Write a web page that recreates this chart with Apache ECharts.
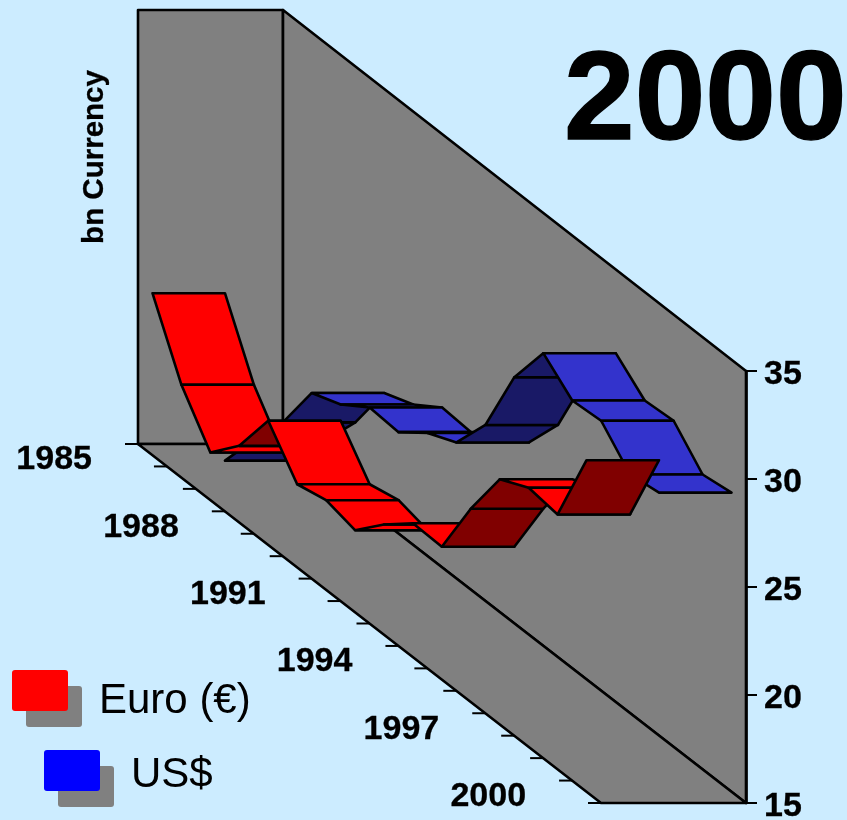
<!DOCTYPE html>
<html>
<head>
<meta charset="utf-8">
<style>html,body{margin:0;padding:0;background:#CCECFF}#chart{width:847px;height:820px}</style>
<script src="https://cdn.jsdelivr.net/npm/echarts@6/dist/echarts.min.js"></script>
</head>
<body>
<div id="chart"></div>
<script>
// Currency stocks 1985-2000, bn, shown as two 3D ribbons in a sheared box.
const years = ['1985','1986','1987','1988','1989','1990','1991','1992','1993','1994','1995','1996','1997','1998','1999','2000'];
const euroValues = [22.5,19.3,17.2,18.55,20.75,18.85,19.15,18.8,20.1,21.2,21.15,23.95,26.35,27.0,26.8,30.35];
const usdValues = [14.75,16.75,18.6,21.0,21.5,22.4,22.3,23.3,23.9,25.75,29.0,31.15,30.0,30.1,28.65,28.85];
const yTicks = {min: 15, max: 35, interval: 5};
const labelledYears = ['1985','1988','1991','1994','1997','2000'];

// Box projection: depth runs sideways, each year steps down the floor.
const DEPTH_PX = 145;
const BOX_DROP = 359;
const YEAR_DROP = BOX_DROP / years.length;
const WALL_TOP_EXTRA = 0.09;  // back corner of the walls stands a touch above the axis top
const STEEP_RISE = 1.6;       // rises steeper than this show the ribbon's underside
const LINE_WIDTH = 2.6;
const FONT = '"Liberation Sans", Arial, sans-serif';
const BOLD_EDGE = 0.3;        // thin outline that thickens the bold labels

function projector(api) {
  const last = years.length - 1;
  const band = api.size([1, 0])[0];
  // year may be a band centre (integer) or a band edge (integer +/- 0.5)
  return function (year, depth, value) {
    const idx = Math.min(Math.max(Math.round(year), 0), last);
    const p = api.coord([idx, value]);
    return [p[0] + (year - idx) * band + depth * DEPTH_PX,
            p[1] - (last + 0.5 - year) * YEAR_DROP];
  };
}

function renderBox(params, api) {
  const P = projector(api);
  const n = years.length;
  const lo = yTicks.min, hi = yTicks.max, top = hi + WALL_TOP_EXTRA;
  const a = -0.5, b = n - 0.5;
  const poly = pts => ({type: 'polygon', shape: {points: pts},
    style: {fill: '#808080', stroke: '#000', lineWidth: LINE_WIDTH, lineJoin: 'round'}});
  const children = [
    poly([P(a,0,lo), P(a,0,top), P(a,1,top), P(a,1,lo)]),
    poly([P(a,1,lo), P(a,1,top), P(b,1,hi), P(b,1,lo)]),
    poly([P(a,0,lo), P(a,1,lo), P(b,1,lo), P(b,0,lo)])
  ];
  for (let i = 0; i <= n; i++) {
    const t = P(i - 0.5, 0, lo);
    children.push({type: 'line', shape: {x1: t[0] - 13, y1: t[1], x2: t[0], y2: t[1]},
      style: {stroke: '#000', lineWidth: 2}});
    if (i < n && labelledYears.indexOf(years[i]) >= 0) {
      children.push({type: 'text', style: {text: years[i], x: t[0] - 46, y: t[1] + 16,
        align: 'right', verticalAlign: 'middle', fill: '#000',
        stroke: '#000', lineWidth: BOLD_EDGE, font: 'bold 34px ' + FONT}});
    }
  }
  return {type: 'group', children: children};
}

function ribbonRenderer(depthFrom, depthTo, light, dark) {
  return function (params, api) {
    const P = projector(api);
    const i = api.value(0), v0 = api.value(1), v1 = api.value(2);
    return {
      type: 'polygon',
      shape: {points: [P(i, depthFrom, v0), P(i, depthTo, v0), P(i + 1, depthTo, v1), P(i + 1, depthFrom, v1)]},
      style: {fill: v1 - v0 > STEEP_RISE ? dark : light, stroke: '#000', lineWidth: LINE_WIDTH, lineJoin: 'round'}
    };
  };
}

// one row per ribbon segment: year index, value at its start, value at its end
const segments = values => values.slice(0, -1).map((v, i) => [i, v, values[i + 1]]);

const swatchIcon = 'path://M3,0H53Q56,0 56,3V38Q56,41 53,41H3Q0,41 0,38V3Q0,0 3,0Z';
const swatchShadow = {shadowColor: '#808080', shadowBlur: 0, shadowOffsetX: 14, shadowOffsetY: 16};
const legendEntry = (name, left, top, padTop) => ({
  data: [name], left: left, top: top, itemWidth: 56, itemHeight: 41, itemGap: 0,
  icon: swatchIcon, selectedMode: false, padding: 0, itemStyle: swatchShadow,
  formatter: n => '{t|' + n + '}',
  textStyle: {rich: {t: {fontFamily: FONT, fontSize: 42, color: '#000', padding: [padTop, 0, 0, 26]}}}
});

const chart = echarts.init(document.getElementById('chart'), null, {renderer: 'canvas'});
chart.setOption({
  animation: false,
  backgroundColor: '#CCECFF',
  title: {text: '2000', left: 564, top: 40, padding: 0,
    textStyle: {fontFamily: FONT, fontWeight: 'bold', fontSize: 127, color: '#000',
      textBorderColor: '#000', textBorderWidth: 1.5}},
  grid: {left: 138, right: 246, top: 371, bottom: 17, outerBoundsMode: 'none'},
  xAxis: {type: 'category', data: years, show: false},
  yAxis: {type: 'value', position: 'right', offset: DEPTH_PX,
    min: yTicks.min, max: yTicks.max, interval: yTicks.interval,
    splitLine: {show: false},
    axisLine: {show: true, lineStyle: {color: '#000', width: LINE_WIDTH}},
    axisTick: {show: true, length: 11, lineStyle: {color: '#000', width: 2}},
    axisLabel: {margin: 18, formatter: '{t|{value}}',
      rich: {t: {padding: [8, 0, 0, 0], color: '#000', fontFamily: FONT, fontWeight: 'bold', fontSize: 34,
        textBorderColor: '#000', textBorderWidth: BOLD_EDGE}}}},
  legend: [legendEntry('Euro (€)', 12, 670, 22), legendEntry('US$', 44, 750, 10)],
  graphic: [{type: 'text', x: 95, y: 157, rotation: Math.PI / 2,
    style: {text: 'bn Currency', align: 'center', verticalAlign: 'middle', fill: '#000',
      stroke: '#000', lineWidth: BOLD_EDGE, font: 'bold 29.5px ' + FONT}}],
  series: [
    {type: 'custom', name: 'box', silent: true, clip: false, z: 1,
     data: [[0, yTicks.min, yTicks.max]], encode: {x: 0, y: 1}, renderItem: renderBox},
    {type: 'custom', name: 'US$', silent: true, clip: false, z: 2, itemStyle: {color: '#0000FF'},
     data: segments(usdValues), encode: {x: 0, y: 1}, renderItem: ribbonRenderer(0.5, 1, '#3333CC', '#191966')},
    {type: 'custom', name: 'Euro (€)', silent: true, clip: false, z: 3, itemStyle: {color: '#FF0000'},
     data: segments(euroValues), encode: {x: 0, y: 1}, renderItem: ribbonRenderer(0, 0.5, '#FF0000', '#800000')}
  ]
});
</script>
</body>
</html>
